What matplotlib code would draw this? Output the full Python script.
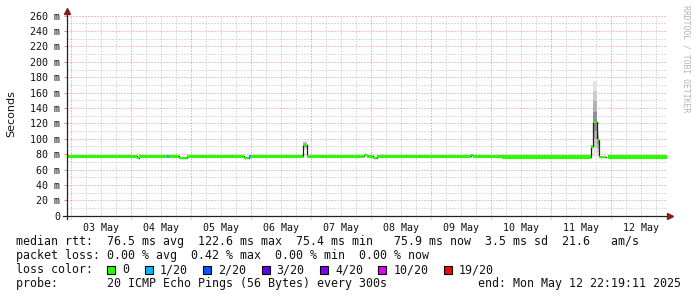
import numpy as np
import matplotlib
matplotlib.use('Agg')
import matplotlib.pyplot as plt
from matplotlib.patches import Rectangle

W, H = 697, 297
MONO = 'DejaVu Sans Mono'
plt.rcParams['lines.scale_dashes'] = False

# time axis in days since 03 May 00:00
t_start, t_end = -0.07, 9.93
day_labels = ['03 May', '04 May', '05 May', '06 May', '07 May',
              '08 May', '09 May', '10 May', '11 May', '12 May']

# median rtt segments (ms): start/end in days, low/high of the median inside the segment
seg_start = [-0.07, 1.10, 1.133, 1.60, 1.633, 1.80, 1.933, 2.883, 2.967, 3.00, 3.867, 3.933,
             4.883, 4.933, 5.033, 5.10, 6.667, 6.70, 7.183, 8.667, 8.711, 8.767, 8.80, 8.917, 8.95]
seg_end = seg_start[1:] + [9.93]
med_lo = [77, 75.5, 77, 77, 77, 75, 77, 75, 77, 77, 92, 77,
          79, 77, 75, 77, 79, 77, 75, 90, 122, 98, 76, np.nan, 75]
med_hi = [77, 75.5, 77, 77, 77, 75, 77, 75, 77, 77, 92, 77,
          79, 77, 75, 77, 79, 77, 77.5, 90, 122, 98, 76, np.nan, 77.5]
seg_loss = [0, 0, 0, 1, 0, 0, 0, 0, 1, 0, 0, 0,
            0, 0, 0, 0, 0, 0, 0, 0, 0, 0, 0, 0, 0]
smoke_lo = [76, 75, 76, 76, 76, 74, 76, 74, 76, 76, 86, 76,
            77, 76, 74, 76, 78, 76, 74, 86, 77, 77, 75, np.nan, 74]
smoke_hi = [78, 76, 78, 78, 78, 76, 78, 76, 78, 78, 97, 78,
            81, 78, 76, 78, 80, 78, 78, 92, 175, 111, 77, np.nan, 78]

loss_labels = ['0', '1/20', '2/20', '3/20', '4/20', '10/20', '19/20']
loss_colors = ['#26ff00', '#00b8ff', '#0059ff', '#5e00ff', '#7e00ff', '#dd00ff', '#ff0000']

legend_lines = [
    'median rtt:  76.5 ms avg  122.6 ms max  75.4 ms min   75.9 ms now  3.5 ms sd  21.6   am/s',
    'packet loss: 0.00 % avg  0.42 % max  0.00 % min  0.00 % now',
    'loss color:',
    'probe:       20 ICMP Echo Pings (56 Bytes) every 300s             end: Mon May 12 22:19:11 2025',
]

fig = plt.figure(figsize=(W / 100, H / 100), dpi=100)
ax = fig.add_axes([66.5 / W, 81.3 / H, 600 / W, 200 / H])
ax.set_xlim(t_start, t_end)
ax.set_ylim(0, 260)
for s in ax.spines.values():
    s.set_visible(False)

red_grid = '#e68484'
gray_grid = '#bcbcbc'
dots = (0, (0.72, 1.44))

# grid
for y in range(10, 261, 10):
    ax.axhline(y, color=red_grid if y % 20 == 0 else gray_grid, lw=0.72, ls=dots, zorder=0)
for q in np.arange(0, 10, 0.25):
    major = abs(q - round(q)) < 1e-6
    ax.axvline(q, color=red_grid if major else gray_grid, lw=0.72, ls=dots, zorder=0)
    ax.plot([q, q], [-0.018, 0], transform=ax.get_xaxis_transform(), clip_on=False,
            color=red_grid if major else gray_grid, lw=0.72, ls=dots)

# smoke
shades = ['#e4e4e4', '#cccccc', '#b0b0b0', '#909090']
for s0, s1, m, lo, hi in zip(seg_start, seg_end, med_lo, smoke_lo, smoke_hi):
    if np.isnan(lo):
        continue
    for k, c in enumerate(shades):
        f = 1 - k / len(shades)
        ax.fill_between([s0, s1], m - (m - lo) * f, m + (hi - m) * f, color=c, lw=0, zorder=1)

# median line (dark steps) and loss coloured band
edges = seg_start + [seg_end[-1]]
mid = [(a + b) / 2 for a, b in zip(med_lo, med_hi)]
ax.step(edges, mid + [mid[-1]], where='post', color='#202020', lw=0.9, zorder=2)
for s0, s1, lo, hi, ls in zip(seg_start, seg_end, med_lo, med_hi, seg_loss):
    if np.isnan(lo):
        continue
    c = loss_colors[ls]
    ax.fill_between([s0, s1], lo - 1.4, hi + 1.4, color=c, lw=0, zorder=3)

# ticks
yt = list(range(0, 261, 20))
ax.set_yticks(yt, ['0'] + [f'{v} m' for v in yt[1:]])
ax.set_xticks(np.arange(10) + 0.5, day_labels)
ax.tick_params(axis='y', length=2.2, width=0.72, color=red_grid, pad=2.5,
               labelsize=7.2, labelcolor='#111111')
ax.tick_params(axis='x', length=0, pad=5, labelsize=7.2, labelcolor='#111111')
for lab in ax.get_xticklabels() + ax.get_yticklabels():
    lab.set_fontfamily(MONO)

# axes with arrows
ax.plot([-0.006, 1.004], [0, 0], transform=ax.transAxes, clip_on=False, color='#222222', lw=0.9, zorder=5)
ax.plot([0, 0], [-0.015, 1.02], transform=ax.transAxes, clip_on=False, color='#222222', lw=0.9, zorder=5)
ax.plot([1.006], [0], marker='>', ms=4.5, color='#8b1a1a', transform=ax.transAxes, clip_on=False, zorder=6)
ax.plot([0], [1.024], marker='^', ms=4.5, color='#8b1a1a', transform=ax.transAxes, clip_on=False, zorder=6)

fig.text(11 / W, 1 - 114 / H, 'Seconds', rotation=90, ha='center', va='center',
         fontsize=8, family='DejaVu Sans', color='#111111')
fig.text(686 / W, 1 - 5 / H, 'RRDTOOL / TOBI OETIKER', rotation=270, ha='center', va='top',
         fontsize=5.9, family=MONO, color='#b4b4b4')

# legend
pitch = 7.03
fs = 8.4
baselines = [245.5, 259.5, 273.3, 287.3]
for line, yb in zip(legend_lines, baselines):
    fig.text(16 / W, 1 - yb / H, line, fontsize=fs, family=MONO, color='#111111', va='baseline')

x = 16 + 13 * pitch
for lab, col in zip(loss_labels, loss_colors):
    fig.add_artist(Rectangle((x / W, 1 - 273.5 / H), 8 / W, 8 / H, transform=fig.transFigure,
                             facecolor=col, edgecolor='black', lw=0.8))
    fig.text((x + 15) / W, 1 - 273.3 / H, lab, fontsize=fs, family=MONO, color='#111111', va='baseline')
    x = x + 15 + len(lab) * pitch + 15.3

fig.savefig('out.png', dpi=100, facecolor='white')
